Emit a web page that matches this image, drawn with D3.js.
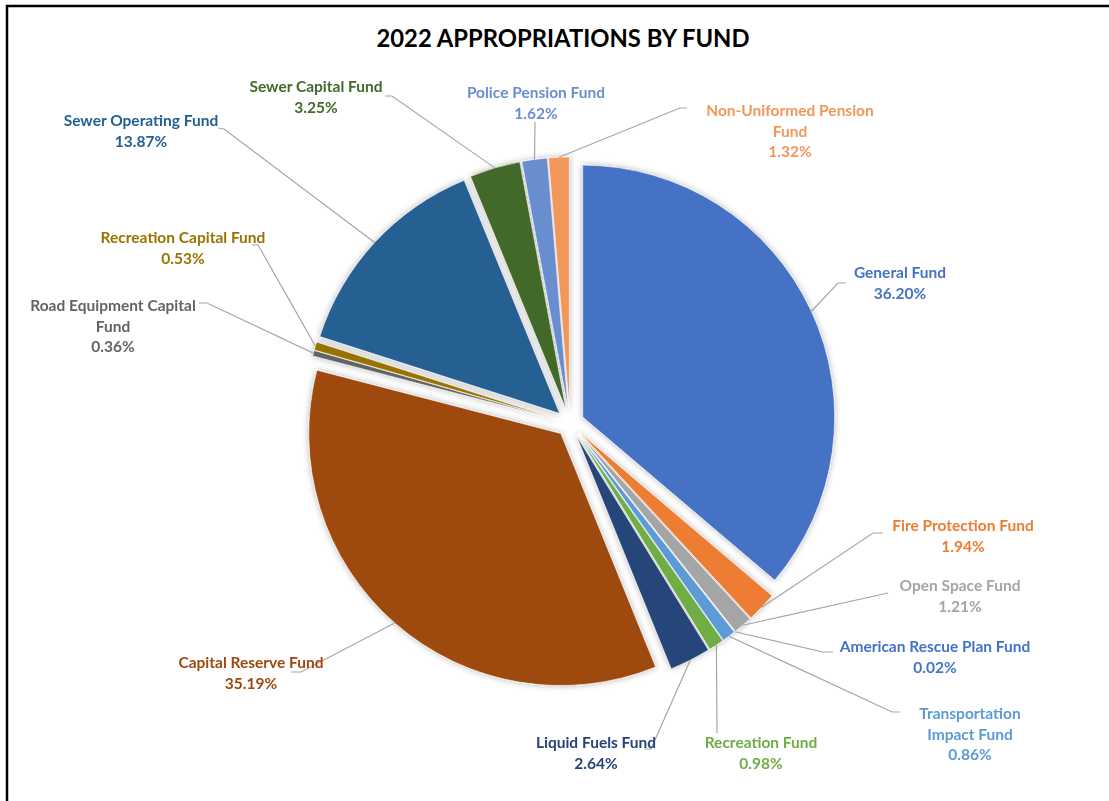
<!DOCTYPE html>
<html>
<head>
<meta charset="utf-8">
<script src="https://cdn.jsdelivr.net/npm/d3@7"></script>
<style>
  body { margin: 0; background: #fff; }
  text { font-family: Lato, "Open Sans", sans-serif; font-weight: bold; }
</style>
</head>
<body>
<svg id="chart" width="1109" height="801"></svg>
<script>
// data, clockwise from 12 o'clock
const funds = [
  "General Fund", "Fire Protection Fund", "Open Space Fund", "American Rescue Plan Fund",
  "Transportation Impact Fund", "Recreation Fund", "Liquid Fuels Fund", "Capital Reserve Fund",
  "Road Equipment Capital Fund", "Recreation Capital Fund", "Sewer Operating Fund",
  "Sewer Capital Fund", "Police Pension Fund", "Non-Uniformed Pension Fund"
];
const shares = [36.20, 1.94, 1.21, 0.02, 0.86, 0.98, 2.64, 35.19, 0.36, 0.53, 13.87, 3.25, 1.62, 1.32];

const sliceColors = ["#4472C4", "#ED7D31", "#A5A5A5", "#FFC000", "#5B9BD5", "#70AD47", "#264478",
  "#9E480E", "#636363", "#997300", "#255E91", "#43682B", "#698ED0", "#F1975A"];
const labelColors = ["#4472C4", "#ED7D31", "#A5A5A5", "#4472C4", "#5B9BD5", "#70AD47", "#264478",
  "#9E480E", "#636363", "#997300", "#255E91", "#43682B", "#698ED0", "#F1975A"];

// how the name is broken over lines in each label
const labelLines = [
  ["General Fund"], ["Fire Protection Fund"], ["Open Space Fund"], ["American Rescue Plan Fund"],
  ["Transportation", "Impact Fund"], ["Recreation Fund"], ["Liquid Fuels Fund"], ["Capital Reserve Fund"],
  ["Road Equipment Capital", "Fund"], ["Recreation Capital Fund"], ["Sewer Operating Fund"],
  ["Sewer Capital Fund"], ["Police Pension Fund"], ["Non-Uniformed Pension", "Fund"]
];

// label placement (centre x, first line y) and leader line bends
const labelPos = [
  [900, 272], [963, 525], [960, 585], [935, 646], [970, 713], [761, 742], [596, 742],
  [251, 662], [113, 305], [183, 237], [141, 120], [316, 86], [536, 92], [790, 110]
];
const leaderBends = [
  [[838, 283], [846, 283]],
  [[873, 533], [883, 533]],
  [[888, 593]],
  [[823, 652], [833, 652]],
  [[892, 712], [900, 712]],
  [[717, 733]],
  [[651, 749], [644, 749]],
  [[301, 672], [291, 672]],
  [[207, 303], [199, 303]],
  [[258, 245], [252, 245]],
  [[224, 129], [218, 128]],
  [[392, 96], [385, 96]],
  [[535, 122]],
  [[680, 108], [687, 108]]
];

const W = 1109, H = 801;
const cx = 570, cy = 423, radius = 252, explode = 14;
const lineH = 20.7;

const svg = d3.select("#chart");

svg.append("rect")
  .attr("width", W).attr("height", H).attr("fill", "#fff");

// frame (right and bottom edges fall outside the picture)
svg.append("rect")
  .attr("x", 7).attr("y", 6)
  .attr("width", W + 20).attr("height", H + 20)
  .attr("fill", "none")
  .attr("stroke", "#000")
  .attr("stroke-width", 2.5);

const defs = svg.append("defs");
const shadow = defs.append("filter")
  .attr("id", "shadow")
  .attr("x", "-10%").attr("y", "-10%")
  .attr("width", "120%").attr("height", "120%");
shadow.append("feDropShadow")
  .attr("dx", 0).attr("dy", 0)
  .attr("stdDeviation", 3)
  .attr("flood-color", "#000")
  .attr("flood-opacity", 0.3);

svg.append("text")
  .attr("x", 563).attr("y", 38)
  .attr("text-anchor", "middle")
  .attr("dominant-baseline", "central")
  .attr("font-size", 23.8)
  .attr("fill", "#000")
  .text("2022 APPROPRIATIONS BY FUND");

const pie = d3.pie().sort(null).value(d => d);
const arcs = pie(shares);
const arc = d3.arc().innerRadius(0).outerRadius(radius);

const mid = d => (d.startAngle + d.endAngle) / 2;

const slices = svg.append("g")
  .attr("transform", `translate(${cx},${cy})`)
  .attr("filter", "url(#shadow)");

slices.selectAll("path")
  .data(arcs)
  .join("path")
    .attr("transform", d => `translate(${explode * Math.sin(mid(d))},${-explode * Math.cos(mid(d))})`)
    .attr("d", arc)
    .attr("fill", (d, i) => sliceColors[i])
    .attr("stroke", "#fff")
    .attr("stroke-width", 0.6)
    .attr("stroke-linejoin", "round");

// leader lines
const line = d3.line();
svg.append("g")
  .selectAll("path")
  .data(arcs)
  .join("path")
    .attr("d", (d, i) => {
      const a = mid(d);
      const start = [cx + (explode + radius) * Math.sin(a), cy - (explode + radius) * Math.cos(a)];
      return line([start, ...leaderBends[i]]);
    })
    .attr("fill", "none")
    .attr("stroke", "#A6A6A6")
    .attr("stroke-width", 1.2);

// labels
const fmt = d3.format(".2f");
const labels = svg.append("g")
  .selectAll("text")
  .data(arcs)
  .join("text")
    .attr("text-anchor", "middle")
    .attr("dominant-baseline", "central")
    .attr("font-size", 15.5)
    .attr("fill", (d, i) => labelColors[i]);

labels.each(function(d, i) {
  const t = d3.select(this);
  const rows = [...labelLines[i], fmt(d.data) + "%"];
  rows.forEach((r, k) => {
    t.append("tspan")
      .attr("x", labelPos[i][0])
      .attr("y", labelPos[i][1] + k * lineH)
      .text(r);
  });
});
</script>
</body>
</html>
